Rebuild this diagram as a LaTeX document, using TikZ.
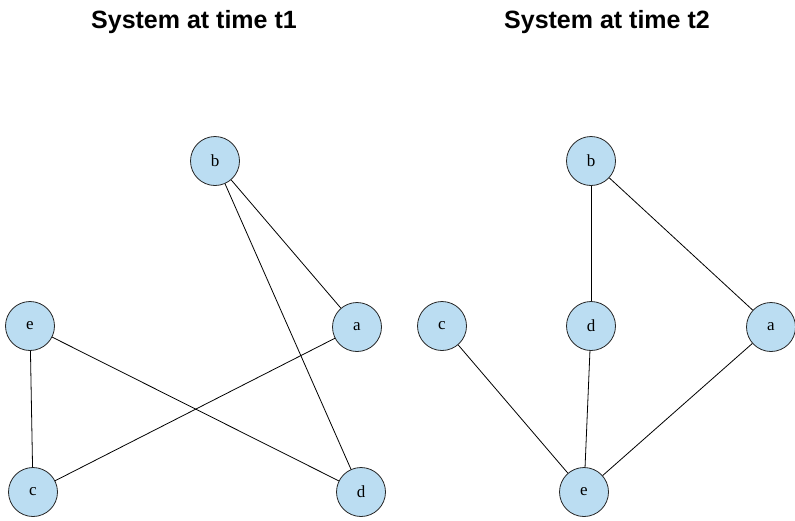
\documentclass[tikz,border=0pt]{standalone}
\usepackage{fontspec}
\setmainfont{Liberation Serif}
\newfontfamily\titlefont{Liberation Sans}
\definecolor{nodeblue}{RGB}{187,221,242}
\begin{document}
\begin{tikzpicture}[x=1pt,y=-1pt,
  vert/.style={circle,draw=black!85,line width=0.8pt,fill=nodeblue,minimum size=49pt,inner sep=0pt,font=\fontsize{17}{17}\selectfont},
  edge/.style={line width=0.8pt,black},
  ttl/.style={font=\titlefont\bfseries\fontsize{25}{30}\selectfont,anchor=base}]
\useasboundingbox (0,0) rectangle (795,520);
\node[ttl] (t1) at (194,28) {System at time t1};
\node[ttl] (t2) at (607,28) {System at time t2};
% left graph
\node[vert] (lb) at (215,161) {b};
\node[vert] (la) at (357,327) {a};
\node[vert] (le) at (30,326) {e};
\node[vert] (lc) at (33,492) {c};
\node[vert] (ld) at (361,492) {d};
\draw[edge] (lb) -- (la);
\draw[edge] (lb) -- (ld);
\draw[edge] (le) -- (lc);
\draw[edge] (le) -- (ld);
\draw[edge] (la) -- (lc);
% right graph
\node[vert] (rb) at (591,161) {b};
\node[vert] (rc) at (442,326) {c};
\node[vert] (rd) at (591,326) {d};
\node[vert] (ra) at (771,327) {a};
\node[vert] (re) at (584,492) {e};
\draw[edge] (rb) -- (rd);
\draw[edge] (rb) -- (ra);
\draw[edge] (rc) -- (re);
\draw[edge] (rd) -- (re);
\draw[edge] (ra) -- (re);
\end{tikzpicture}
\end{document}
